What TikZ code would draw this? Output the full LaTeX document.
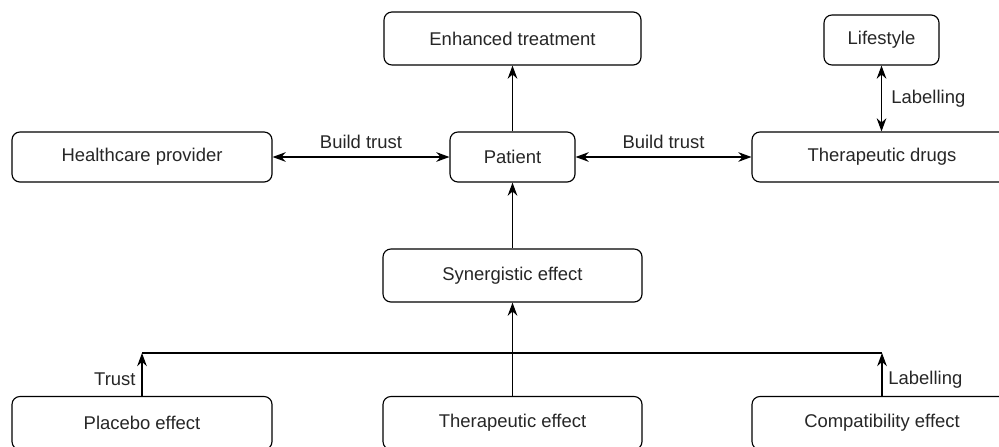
\documentclass[tikz,border=0pt]{standalone}
\usepackage{fontspec}
\setmainfont{Liberation Sans}
\usetikzlibrary{arrows.meta}
\tikzset{
    box/.style={draw, line width=0.65pt, rounded corners=4.5pt, minimum height=50*0.02cm,
        inner sep=0pt, font=\fontsize{10.5}{12}\selectfont, text=black!85},
    arr/.style={line width=0.65pt, -{Stealth[length=7.5pt,width=5.5pt]}},
    biarr/.style={line width=0.65pt, {Stealth[length=7.5pt,width=5.5pt]}-{Stealth[length=7.5pt,width=5.5pt]}},
    lbl/.style={font=\fontsize{10.5}{12}\selectfont, text=black!85}
}
\begin{document}
\begin{tikzpicture}[x=0.02cm, y=-0.02cm]
    \clip (0,0) rectangle (999,446);
    \useasboundingbox (0,0) rectangle (999,446);

    % top row
    \node[box, minimum width=257*0.02cm, minimum height=53*0.02cm] (enh) at (512.5, 38.5) {Enhanced treatment};
    \node[box, minimum width=115*0.02cm] (life) at (881.5, 40) {Lifestyle};

    % middle row
    \node[box, minimum width=260*0.02cm] (hcp) at (142, 157) {Healthcare provider};
    \node[box, minimum width=125*0.02cm] (pat) at (512.5, 157) {Patient};
    \node[box, minimum width=260*0.02cm] (drugs) at (882, 157) {Therapeutic drugs};
    \node[box, minimum width=259*0.02cm, minimum height=53*0.02cm] (syn) at (512.5, 275.5) {Synergistic effect};

    % bottom row
    \node[box, minimum width=260*0.02cm, minimum height=53*0.02cm] (placebo) at (142, 423) {Placebo effect};
    \node[box, minimum width=259*0.02cm, minimum height=53*0.02cm] (theff) at (512.5, 423) {Therapeutic effect};
    \node[box, minimum width=260*0.02cm, minimum height=53*0.02cm] (compat) at (882, 423) {Compatibility effect};

    \draw[biarr] (hcp) -- node[lbl, above, yshift=1pt] {Build trust} (pat);
    \draw[biarr] (pat) -- node[lbl, above, yshift=1pt] {Build trust} (drugs);
    \draw[arr] (pat) -- (enh);
    \draw[biarr] (drugs.north -| life) -- node[lbl, right, xshift=2pt] {Labelling} (life);
    \draw[arr] (syn) -- (pat);

    % joining bar
    \coordinate (bar) at (512.5, 353);
    \draw[line width=0.65pt] (placebo.north |- bar) -- (compat.north |- bar);
    \draw[arr] (placebo.north) -- node[lbl, left, pos=0.38] {Trust} (placebo.north |- bar);
    \draw[arr] (compat.north) -- node[lbl, right, pos=0.38] {Labelling} (compat.north |- bar);
    \draw[arr] (theff) -- (syn);
\end{tikzpicture}
\end{document}
